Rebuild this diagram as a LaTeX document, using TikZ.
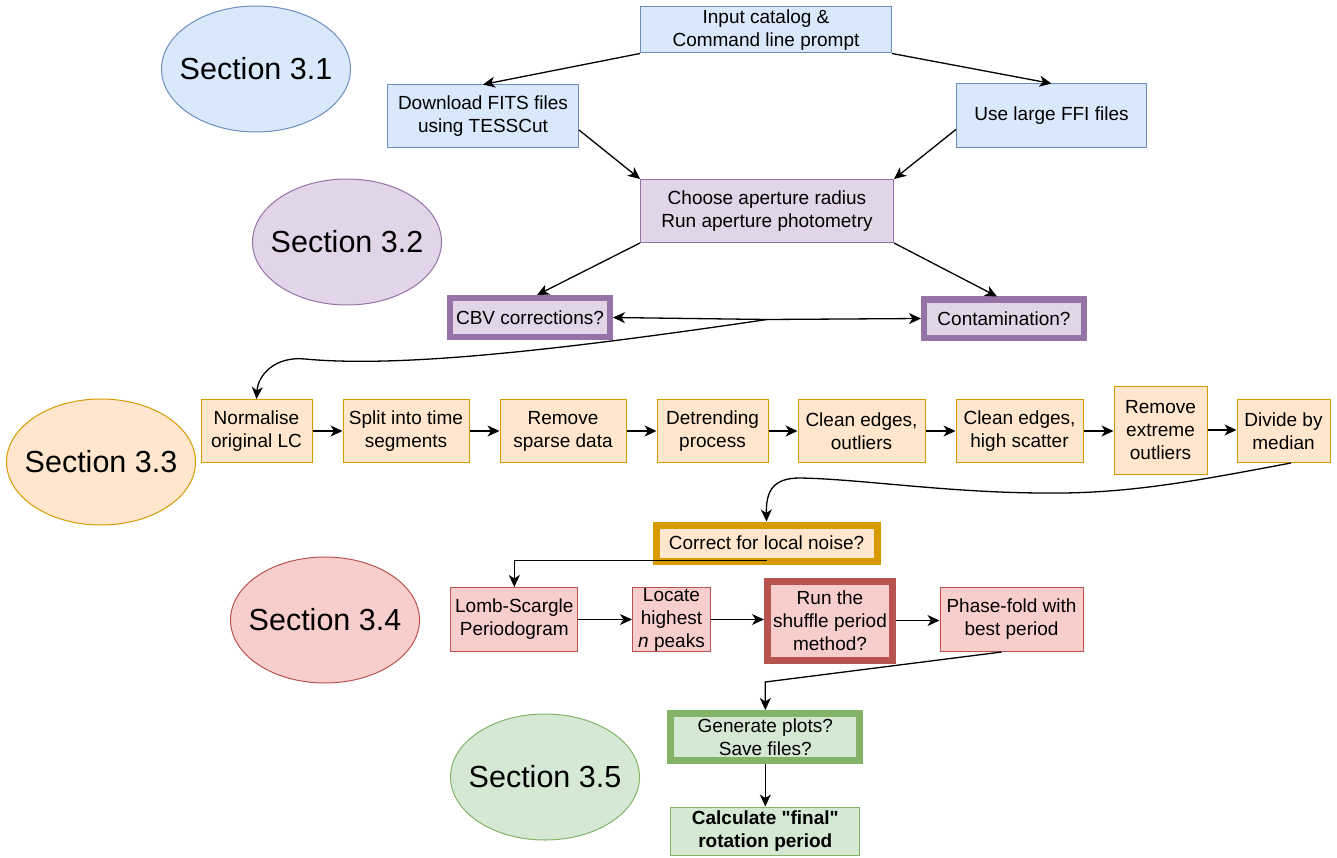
\documentclass[tikz,border=0pt]{standalone}
\usepackage{fontspec}
\setmainfont{Liberation Sans}[Ligatures=TeXOff]
\usetikzlibrary{arrows.meta, shapes.geometric}

\definecolor{bluefill}{HTML}{DAE8FC}
\definecolor{blueline}{HTML}{6C8EBF}
\definecolor{purplefill}{HTML}{E1D5E7}
\definecolor{purpleline}{HTML}{9673A6}
\definecolor{orangefill}{HTML}{FFE6CC}
\definecolor{orangeline}{HTML}{D79B00}
\definecolor{redfill}{HTML}{F8CECC}
\definecolor{redline}{HTML}{B85450}
\definecolor{greenfill}{HTML}{D5E8D4}
\definecolor{greenline}{HTML}{82B366}

\tikzset{
	procbox/.style={rectangle, draw=#1line, fill=#1fill, line width=1pt, inner sep=1pt,
		align=center, font=\fontsize{19}{23}\selectfont},
	askbox/.style={procbox=#1, line width=6pt},
	secblob/.style={ellipse, draw=#1line, fill=#1fill, line width=1pt, inner xsep=-12pt, inner ysep=0pt,
		minimum width=189, minimum height=126, font=\fontsize{30.5}{36}\selectfont},
	arr/.style={-{Stealth[length=12pt, width=11pt, inset=3.5pt]}, line width=1.3pt}
}

\begin{document}
\begin{tikzpicture}[x=1pt, y=-1pt]
		\useasboundingbox (0,0) rectangle (1337,858);
		% section labels
		\node[secblob=blue] (sec1) at (256,69) {Section 3.1};
		\node[secblob=purple] (sec2) at (347,242) {Section 3.2};
		\node[secblob=orange] (sec3) at (101,462) {Section 3.3};
		\node[secblob=red] (sec4) at (325,620) {Section 3.4};
		\node[secblob=green] (sec5) at (545,777) {Section 3.5};
		% section 3.1: input
		\node[procbox=blue, minimum width=251, minimum height=46] (input) at (766,30) {Input catalog \&\\Command line prompt};
		\node[procbox=blue, minimum width=191, minimum height=63] (tesscut) at (483,116.5) {Download FITS files\\using TESSCut};
		\node[procbox=blue, minimum width=190, minimum height=64] (ffi) at (1051.5,116) {Use large FFI files};
		% section 3.2: photometry
		\node[procbox=purple, minimum width=253, minimum height=63] (aper) at (767,211) {Choose aperture radius\\Run aperture photometry};
		\node[askbox=purple, minimum width=160, minimum height=39] (cbv) at (530,317.5) {CBV corrections?};
		\node[askbox=purple, minimum width=160, minimum height=38] (contam) at (1004,318.5) {Contamination?};
		% section 3.3: light curve cleaning
		\node[procbox=orange, minimum width=111, minimum height=63] (norm) at (256.5,431) {Normalise\\original LC};
		\node[procbox=orange, minimum width=126, minimum height=63] (split) at (406,431) {Split into time\\segments};
		\node[procbox=orange, minimum width=126, minimum height=63] (sparse) at (563,431) {Remove\\sparse data};
		\node[procbox=orange, minimum width=111, minimum height=63] (detrend) at (712.5,431) {Detrending\\process};
		\node[procbox=orange, minimum width=127, minimum height=63] (outl) at (861.5,431) {Clean edges,\\outliers};
		\node[procbox=orange, minimum width=127, minimum height=63] (scatter) at (1019.5,431) {Clean edges,\\high scatter};
		\node[procbox=orange, minimum width=93, minimum height=88] (extreme) at (1160.5,430) {Remove\\extreme\\outliers};
		\node[procbox=orange, minimum width=93, minimum height=63] (median) at (1283.5,431) {Divide by\\median};
		\node[askbox=orange, line width=7pt, minimum width=221, minimum height=36] (correct) at (766.5,543) {Correct for local noise?};
		% section 3.4: periods
		\node[procbox=red, minimum width=127, minimum height=64] (lomb) at (514.3,619.5) {Lomb-Scargle\\Periodogram};
		\node[procbox=red, inner sep=0pt, minimum width=78, minimum height=64] (locate) at (671.5,619.5) {Locate\\highest\\\textit{n} peaks};
		\node[askbox=red, line width=7pt, minimum width=125, minimum height=79] (shuffle) at (830,620.5) {Run the\\shuffle period\\method?};
		\node[procbox=red, minimum width=143, minimum height=64] (phase) at (1011.5,619.5) {Phase-fold with\\best period};
		% section 3.5: output
		\node[askbox=green, line width=7pt, minimum width=189, minimum height=47] (gen) at (765.3,737) {Generate plots?\\Save files?};
		\node[procbox=green, minimum width=189, minimum height=48, font=\fontsize{19}{23}\selectfont\bfseries] (calc) at (765.3,831) {Calculate "final"\\rotation period};
		% arrows of section 3.1 and 3.2
		\draw[arr] (input.south west) -- (tesscut.north);
		\draw[arr] (input.south east) -- (ffi.north);
		\draw[arr] (tesscut.-8) -- (aper.north west);
		\draw[arr] (ffi.188) -- (aper.north east);
		\draw[arr] (aper.south west) -- ([xshift=7]cbv.north);
		\draw[arr] (aper.south east) -- ([xshift=-7]contam.north);
		\coordinate (fork) at (767,319.5);
		\draw[arr] (fork) -- (cbv.east);
		\draw[arr] (fork) -- (contam.west);
		\draw[arr] (fork) .. controls (560,350) and (400,368) .. (305,359)
			.. controls (275,356) and (258,375) .. (norm.north);
		% arrows along the cleaning steps
		\foreach \a/\b in {norm/split, split/sparse, sparse/detrend, detrend/outl, outl/scatter, scatter/extreme, extreme/median}
		{
			\draw[arr] (\a.east) -- (\a.east -| \b.west);
		}
		\draw[arr] ([xshift=7.5]median.south) .. controls (1200,480) and (1130,494) .. (1046,493)
			.. controls (950,493) and (860,479) .. (800,478)
			.. controls (772,478) and (766,492) .. (correct.north);
		\draw[arr] ([yshift=4]correct.south) -| (lomb.north);
		% arrows along the period search
		\foreach \a/\b in {lomb/locate, locate/shuffle, shuffle/phase}
		{
			\draw[arr] (\a.east) -- (\a.east -| \b.west);
		}
		\coordinate (bend) at (765.3,682);
		\draw[arr] ([xshift=-10]phase.south) -- (bend) -- (gen.north);
		\draw[arr] (gen) -- (calc);
	\end{tikzpicture}
\end{document}
